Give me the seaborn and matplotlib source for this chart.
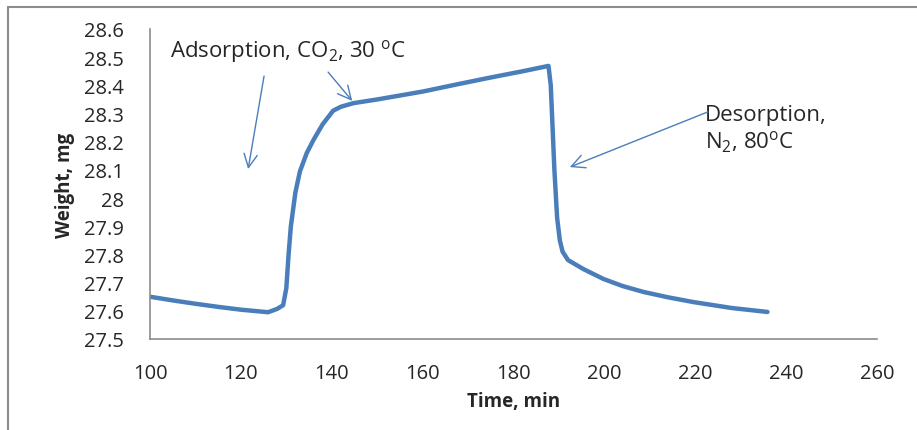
import pandas as pd
import numpy as np
import seaborn as sns
import matplotlib.pyplot as plt
from matplotlib.lines import Line2D

# valores
tiempo = [100, 105, 110, 115, 120, 124, 126, 128, 129.3, 130, 130.5, 131, 132,
          133, 134.5, 136, 138, 140.3, 142, 144.8, 150, 160, 168, 175, 182,
          187.7, 188.2, 189.0, 189.6, 190.2, 190.8, 192, 195.4, 199.8, 204,
          208.6, 214, 219.6, 228, 235.9]
peso = [27.65, 27.637, 27.625, 27.614, 27.604, 27.598, 27.595, 27.607, 27.62,
        27.68, 27.80, 27.90, 28.02, 28.095, 28.16, 28.207, 28.262, 28.31, 28.324,
        28.337, 28.35, 28.378, 28.405, 28.428, 28.45, 28.469, 28.40, 28.10,
        27.93, 27.85, 27.81, 27.78, 27.748, 27.713, 27.688, 27.667, 27.648,
        27.631, 27.61, 27.596]

x_ticks = [100, 120, 140, 160, 180, 200, 220, 240, 260]
y_ticks = [27.5, 27.6, 27.7, 27.8, 27.9, 28, 28.1, 28.2, 28.3, 28.4, 28.5, 28.6]
y_labels = ['27.5', '27.6', '27.7', '27.8', '27.9', '28', '28.1', '28.2',
            '28.3', '28.4', '28.5', '28.6']

AZUL = '#4a7ebb'
GRIS = '#8c8c8c'

sns.set_style('white')
plt.rcParams['font.family'] = ['Open Sans', 'DejaVu Sans']
plt.rcParams['mathtext.fontset'] = 'custom'
plt.rcParams['mathtext.rm'] = 'Open Sans'
plt.rcParams['mathtext.it'] = 'Open Sans'

df = pd.DataFrame({'Time': tiempo, 'Weight': peso})

fig = plt.figure(figsize=(9.17, 4.31), dpi=100)
ax = fig.add_axes([150 / 917, 91 / 431, 727 / 917, 310 / 431])

sns.lineplot(data=df, x='Time', y='Weight', ax=ax, color=AZUL, linewidth=3.2,
             sort=False)

ax.set_xlim(100, 260)
ax.set_ylim(27.5, 28.6)
ax.set_xticks(x_ticks)
ax.set_yticks(y_ticks)
ax.set_yticklabels(y_labels)
ax.tick_params(axis='both', labelsize=14.5, direction='out', length=5,
               width=1, color=GRIS, pad=6)
ax.tick_params(axis='y', pad=14)
ax.tick_params(axis='x', pad=12)

for s in ['top', 'right']:
    ax.spines[s].set_visible(False)
for s in ['left', 'bottom']:
    ax.spines[s].set_color(GRIS)
    ax.spines[s].set_linewidth(1.2)

ax.set_xlabel('Time, min', fontsize=13.5, fontweight='bold', labelpad=6)
ax.set_ylabel('Weight, mg', fontsize=13.5, fontweight='bold', labelpad=6)

# anotaciones
ax.text(104.4, 28.522, r'Adsorption, CO$_2$, 30 $^{\mathrm{o}}$C', fontsize=16,
        va='center', ha='left')
ax.text(222.1, 28.245, 'Desorption,\n' + r'N$_2$, 80$^{\mathrm{o}}$C',
        fontsize=16, va='center', ha='left', linespacing=1.2)

flecha = dict(arrowstyle='->', color=AZUL, lw=1, mutation_scale=24,
              shrinkA=0, shrinkB=0)
ax.annotate('', xy=(121.6, 28.103), xytext=(125.1, 28.433), arrowprops=flecha)
ax.annotate('', xy=(144.5, 28.345), xytext=(139.2, 28.447), arrowprops=flecha)
ax.annotate('', xy=(192.4, 28.110), xytext=(222.8, 28.306), arrowprops=flecha)

# marco exterior del grafico
fig.add_artist(Line2D([8 / 917, 1], [1 - 8 / 431, 1 - 8 / 431],
                      transform=fig.transFigure, color=GRIS, lw=1.5))
fig.add_artist(Line2D([8 / 917, 8 / 917], [0, 1 - 8 / 431],
                      transform=fig.transFigure, color=GRIS, lw=1.5))

plt.savefig('out.png', dpi=100)
